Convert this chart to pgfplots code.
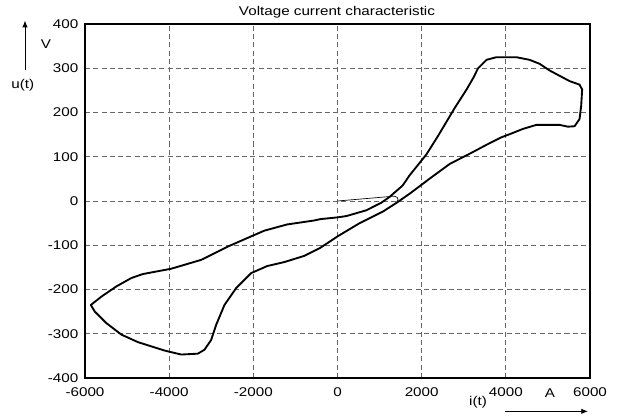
\documentclass[border=0pt]{standalone}
\usepackage{pgfplots}
\pgfplotsset{compat=1.18}
\usepackage{fontspec}
\setmainfont[FakeStretch=1.2]{Liberation Sans}
\usetikzlibrary{arrows.meta}
\pgfplotstableread{
x y
-3318 -345
-3160 -336
-3002 -314
-2884 -280
-2686 -235
-2410 -197
-2054 -163
-1670 -147
-1264 -138
-790 -124
-412 -106
0 -80
527 -50
1077 -24
1420 -3
1722 17
2196 51
2670 84
3144 107
3540 127
3895 144
4092 151
4408 163
4724 172
5277 172
5475 168
5633 169
5751 185
5790 215
5814 252
5751 263
5514 271
5040 295
4803 310
4566 319
4250 325
3776 325
3540 319
3340 300
3225 278
3067 252
2790 211
2395 148
2118 106
1705 57
1548 35
1234 9
1038 -4
684 -21
212 -34
0 -37
-412 -41
-553 -44
-1198 -53
-1738 -67
-2054 -80
-2607 -103
-3239 -133
-3950 -153
-4621 -165
-4898 -174
-5254 -193
-5609 -216
-5862 -235
-5767 -250
-5491 -276
-5135 -302
-4740 -319
-4108 -338
-3713 -347
-3318 -345
}\loopdata
\pgfplotstableread{
x y
0 0
1352 11
1420 8
1440 3
1410 -2
}\thindata
\begin{document}
\begin{tikzpicture}
\begin{axis}[
  at={(0,0)}, anchor=south west,
  scale only axis,
  width=378.75pt, height=265.5pt,
  xmin=-6000, xmax=6000, ymin=-400, ymax=400,
  xtick={-6000,-4000,-2000,0,2000,4000,6000},
  xticklabels={-6000,-4000,-2000,0,2000,4000,6000},
  ytick={-400,-300,-200,-100,0,100,200,300,400},
  yticklabels={-400,-300,-200,-100,0,100,200,300,400},
  major tick length=0pt,
  grid=major,
  major grid style={black!60, line width=0.6pt, dash pattern=on 3.8pt off 2.4pt},
  axis line style={black, line width=0.9pt},
  tick label style={font=\fontsize{9.5}{11}\selectfont},
  xticklabel style={yshift=-3.5pt},
  yticklabel style={xshift=-1.5pt},
]
\addplot[black, line width=1.4pt, line join=round] table[x=x,y=y] {\loopdata};
\addplot[black, line width=0.5pt] table[x=x,y=y] {\thindata};
\end{axis}
\node[font=\fontsize{9.5}{11}\selectfont] at (189pt,274.5pt) {Voltage current characteristic};
\node[font=\fontsize{9.5}{11}\selectfont] at (-46.7pt,219.5pt) {u(t)};
\node[font=\fontsize{9.5}{11}\selectfont] at (-29.25pt,250.5pt) {V};
\draw[line width=0.6pt, -{Latex[length=5pt,width=4pt]}] (-45pt,231pt) -- (-45pt,268pt);
\node[font=\fontsize{9.5}{11}\selectfont] at (294.75pt,-18pt) {i(t)};
\draw[line width=0.6pt, -{Latex[length=5pt,width=4pt]}] (315pt,-25pt) -- (377.25pt,-25pt);
\node[font=\fontsize{9.5}{11}\selectfont] at (348.75pt,-11.5pt) {A};
\pgfresetboundingbox
\path[use as bounding box] (-63.75pt,-30.75pt) rectangle (408pt,283.5pt);
\end{tikzpicture}
\end{document}
